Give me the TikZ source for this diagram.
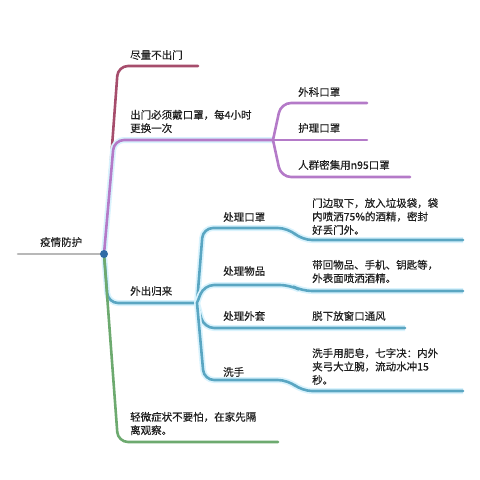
\documentclass[tikz,border=0pt]{standalone}
\usepackage{fontspec}
\newfontfamily\cjk[FakeBold=0.4]{Noto Sans CJK SC}
\usetikzlibrary{positioning}
\definecolor{mroon}{HTML}{A64D6C}
\definecolor{lilac}{HTML}{B47AC8}
\definecolor{teal1}{HTML}{5AA6C2}
\definecolor{grn}{HTML}{6DAA6F}
\definecolor{rootb}{HTML}{2F6CA6}

\begin{document}
\begin{tikzpicture}[x=1pt,y=-1pt,
  txt/.style={font=\cjk\fontsize{10.5}{13.4}\selectfont,text=black!88,inner sep=0pt,anchor=west,align=left},
  br/.style={line width=2.6pt,rounded corners=10pt,line cap=round},
  glow/.style={preaction={draw=cyan!15,line width=6pt}}]

\useasboundingbox (0,0) rectangle (480,480);

\coordinate (r) at (104,254);
\coordinate (g0) at (18,254);
\coordinate (b1) at (198,66);
\coordinate (b2) at (273,140);
\coordinate (b3) at (197,303);
\coordinate (b4) at (278,442);
\coordinate (m1) at (367,103);
\coordinate (m2) at (367,140);
\coordinate (m3) at (410,177);
\coordinate (k1) at (463,240);
\coordinate (k2) at (463,291);
\coordinate (k3) at (405,328);
\coordinate (k4) at (463,391);

\draw[br,draw=black!28] (g0) -- (r);

\draw[br,draw=mroon] (r) -- (118,66) -- (b1);
\draw[br,draw=lilac,glow] (r) -- (114,140) -- (b2);
\draw[br,draw=teal1,glow] (r) -- (108,303) -- (b3);
\draw[br,draw=grn] (r) -- (118,442) -- (b4);

\draw[br,draw=lilac] (b2) -- (281,103) -- (m1);
\draw[br,draw=lilac] (b2) -- (m2);
\draw[br,draw=lilac] (b2) -- (281,177) -- (m3);

\draw[br,draw=teal1,glow] (b3) -- (203,228) -- (288,228) -- (302,240) -- (k1);
\draw[br,draw=teal1,glow] (b3) -- (204,285) -- (290,285) -- (302,291) -- (k2);
\draw[br,draw=teal1,glow] (b3) -- (204,328) -- (k3);
\draw[br,draw=teal1,glow] (b3) -- (204,380) -- (288,380) -- (302,391) -- (k4);

\fill[rootb] (r) circle (4pt);

\node[txt] (t0) at (40,242) {疫情防护};
\node[txt] (t1) at (130,55) {尽量不出门};
\node[txt] (t2) at (130,121.5) {出门必须戴口罩，每4小时\\更换一次};
\node[txt] (t21) at (298,92) {外科口罩};
\node[txt] (t22) at (298,128) {护理口罩};
\node[txt] (t23) at (298,165) {人群密集用n95口罩};
\node[txt] (t3) at (130,291) {外出归来};
\node[txt] (t31) at (223,217) {处理口罩};
\node[txt] (d31) at (312,216.5) {门边取下，放入垃圾袋，袋\\内喷洒75\%的酒精，密封\\好丢门外。};
\node[txt] (t32) at (223,271) {处理物品};
\node[txt] (d32) at (312,271.5) {带回物品、手机、钥匙等，\\外表面喷洒酒精。};
\node[txt] (t33) at (223,316) {处理外套};
\node[txt] (d33) at (312,316) {脱下放窗口通风};
\node[txt] (t34) at (223,372) {洗手};
\node[txt] (d34) at (312,366.5) {洗手用肥皂，七字决：内外\\夹弓大立腕，流动水冲15\\秒。};
\node[txt] (t4) at (130,423.5) {轻微症状不要怕，在家先隔\\离观察。};

\end{tikzpicture}
\end{document}
